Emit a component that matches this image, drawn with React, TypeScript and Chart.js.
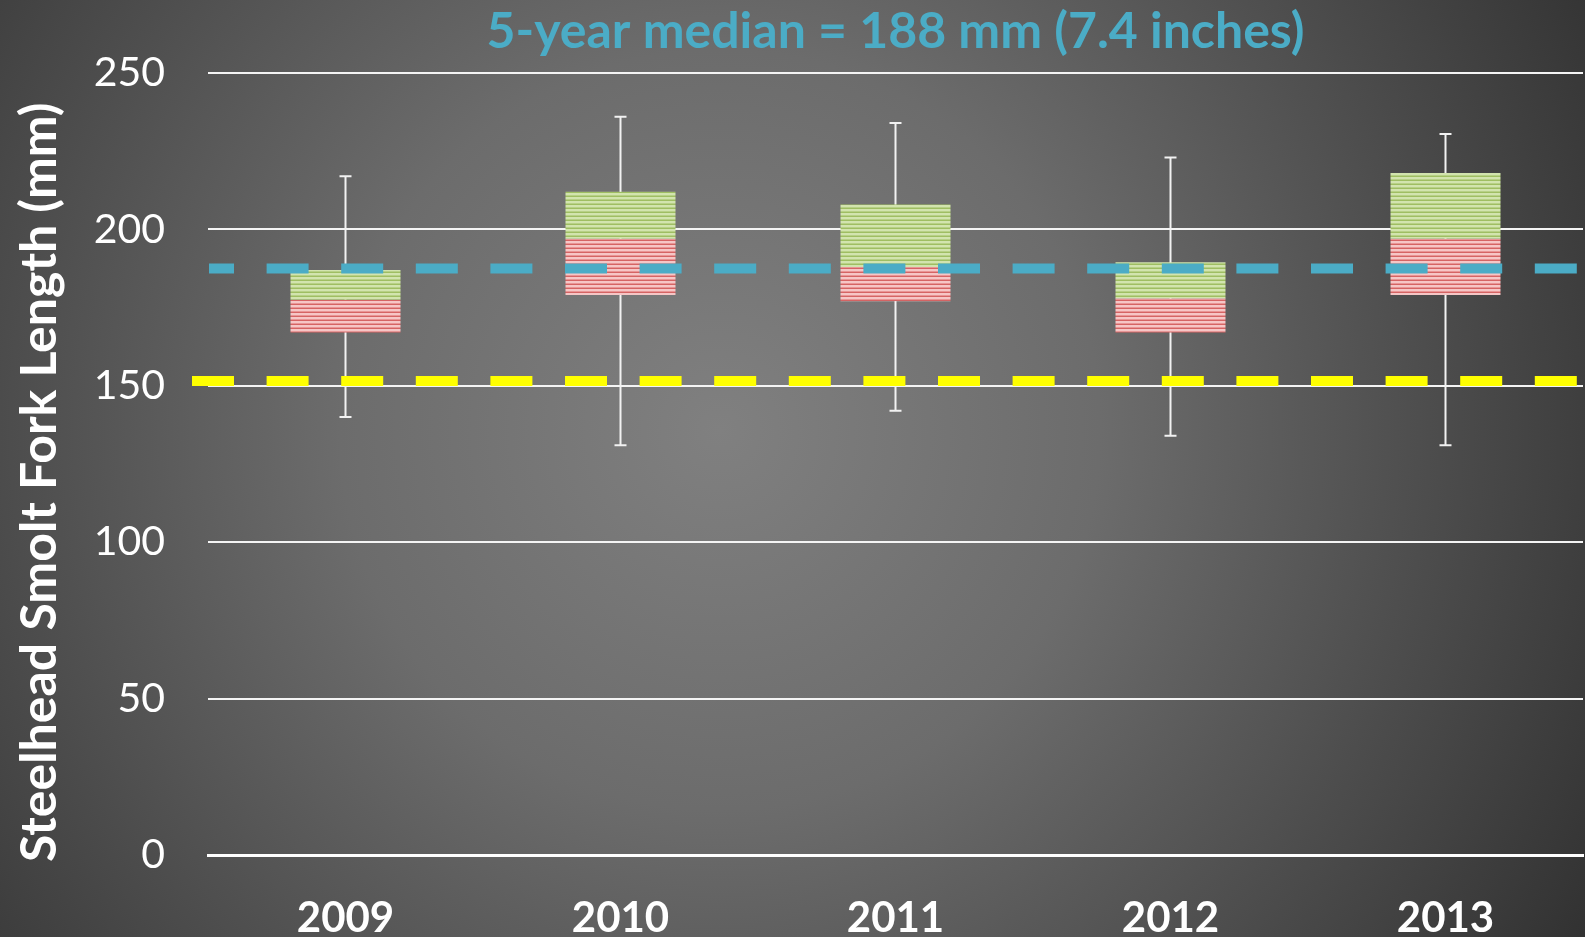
import { useEffect, useRef } from 'react';
import { Chart, registerables } from 'chart.js';

Chart.register(...registerables);

const categories = ['2009', '2010', '2011', '2012', '2013'];
const whiskerLow = [140, 131, 142, 134, 131];
const quartile1 = [167, 179, 177, 167, 179];
const medians = [177.5, 197, 188, 178, 197];
const quartile3 = [187, 212, 208, 189.5, 218];
const whiskerHigh = [217, 236, 234, 223, 230.5];
const fiveYearMedian = 187.5;
const thresholdLine = 151.5;
const yTickValues = [0, 50, 100, 150, 200, 250];
const titleText = '5-year median = 188 mm (7.4 inches)';
const yTitleText = 'Steelhead Smolt Fork Length (mm)   ';

const FONT = 'Lato, "Open Sans", "Liberation Sans", sans-serif';

function makeStripes(ctx: CanvasRenderingContext2D, light: string, dark: string, mid: string) {
  const c = document.createElement('canvas');
  c.width = 4;
  c.height = 4;
  const g = c.getContext('2d')!;
  g.fillStyle = light;
  g.fillRect(0, 0, 4, 4);
  g.fillStyle = dark;
  g.fillRect(0, 0, 4, 1);
  g.fillStyle = mid;
  g.fillRect(0, 3, 4, 1);
  return ctx.createPattern(c, 'repeat') as CanvasPattern;
}

const whiskerPlugin = {
  id: 'whiskers',
  beforeDatasetsDraw(chart: any) {
    const { ctx, scales } = chart;
    const x = scales.x;
    const y = scales.y;
    ctx.save();
    ctx.strokeStyle = '#f2f2f2';
    ctx.lineWidth = 2;
    for (let i = 0; i < categories.length; i++) {
      const px = x.getPixelForValue(i);
      const top = y.getPixelForValue(whiskerHigh[i]);
      const bot = y.getPixelForValue(whiskerLow[i]);
      ctx.beginPath();
      ctx.moveTo(px, top);
      ctx.lineTo(px, bot);
      ctx.moveTo(px - 6, top);
      ctx.lineTo(px + 6, top);
      ctx.moveTo(px - 6, bot);
      ctx.lineTo(px + 6, bot);
      ctx.stroke();
    }
    ctx.restore();
  },
};

const refLinePlugin = {
  id: 'refLines',
  afterDatasetsDraw(chart: any) {
    const { ctx, scales, chartArea, width } = chart;
    const y = scales.y;
    const startX = chartArea.left - 16;
    const draw = (value: number, color: string, clipLeft: number) => {
      const py = y.getPixelForValue(value);
      ctx.save();
      ctx.beginPath();
      ctx.rect(clipLeft, py - 10, width - clipLeft, 20);
      ctx.clip();
      ctx.strokeStyle = color;
      ctx.lineWidth = 10;
      ctx.lineCap = 'butt';
      ctx.setLineDash([42, 32.6]);
      ctx.beginPath();
      ctx.moveTo(startX, py);
      ctx.lineTo(width, py);
      ctx.stroke();
      ctx.restore();
    };
    draw(thresholdLine, '#ffff00', startX);
    draw(fiveYearMedian, '#4bacc6', chartArea.left + 1);
  },
};

export default function App() {
  const canvasRef = useRef<HTMLCanvasElement | null>(null);

  useEffect(() => {
    const canvas = canvasRef.current!;
    const ctx = canvas.getContext('2d')!;
    const greenPattern = makeStripes(ctx, '#d2e4ae', '#9fbe62', '#b7d086');
    const redPattern = makeStripes(ctx, '#f6c6c6', '#d56464', '#e89595');

    const chart = new Chart(canvas, {
      type: 'bar',
      data: {
        labels: categories,
        datasets: [
          {
            label: 'Upper quartile',
            data: categories.map((_, i) => [medians[i], quartile3[i]]) as any,
            backgroundColor: greenPattern as any,
            borderWidth: 0,
            grouped: false,
            barPercentage: 0.4,
            categoryPercentage: 1,
          } as any,
          {
            label: 'Lower quartile',
            data: categories.map((_, i) => [quartile1[i], medians[i]]) as any,
            backgroundColor: redPattern as any,
            borderWidth: 0,
            grouped: false,
            barPercentage: 0.4,
            categoryPercentage: 1,
          } as any,
        ],
      },
      options: {
        animation: false,
        responsive: false,
        layout: { padding: { top: 0, right: 2, left: 0, bottom: 0 } },
        plugins: {
          legend: { display: false },
          tooltip: { enabled: false },
          title: {
            display: true,
            text: titleText,
            color: '#4bacc6',
            fullSize: false,
            font: { family: FONT, size: 50, weight: 'bold' },
            padding: { top: 2, bottom: 11 },
          },
        },
        scales: {
          x: {
            grid: { display: false },
            border: { display: true, color: '#ffffff', width: 3 },
            ticks: {
              color: '#ffffff',
              font: { family: FONT, size: 42, weight: 'bold' },
              padding: 30,
            },
            afterFit: (s: any) => {
              s.height = 82;
            },
          },
          y: {
            min: 0,
            max: 250,
            afterBuildTicks: (s: any) => {
              s.ticks = yTickValues.map((v) => ({ value: v }));
            },
            grid: { color: '#f4f4f4', lineWidth: 2, drawTicks: false },
            border: { display: false },
            ticks: {
              color: '#ffffff',
              font: { family: FONT, size: 41 },
              padding: 43,
            },
            title: {
              display: true,
              text: yTitleText,
              color: '#ffffff',
              font: { family: FONT, size: 50, weight: 'bold' },
              padding: { top: 10, bottom: 0 },
            },
            afterFit: (s: any) => {
              s.width = 208;
            },
          },
        },
      },
      plugins: [whiskerPlugin, refLinePlugin],
    });
    return () => chart.destroy();
  }, []);

  return (
    <div
      style={{
        position: 'fixed',
        left: 0,
        top: 0,
        width: 1585,
        height: 937,
        background:
          'radial-gradient(circle at 720px 430px, #808080 0px, #6c6c6c 380px, #4c4c4c 720px, #323232 1000px)',
      }}
    >
      <canvas ref={canvasRef} width={1585} height={937} style={{ display: 'block', width: 1585, height: 937 }} />
    </div>
  );
}
